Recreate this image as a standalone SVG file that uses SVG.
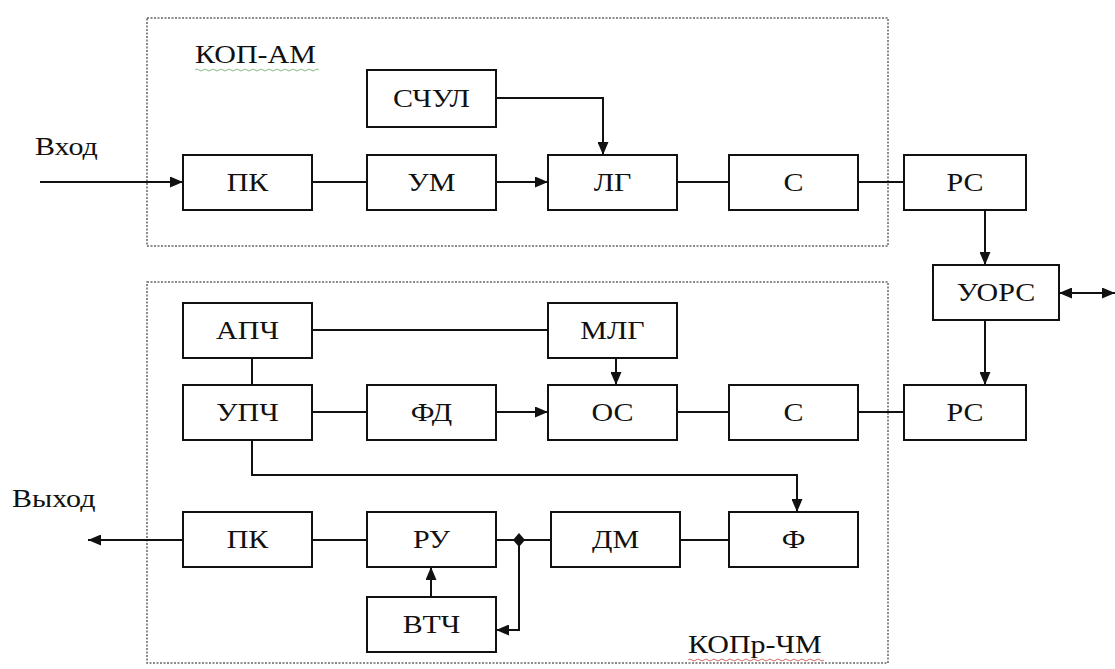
<svg xmlns="http://www.w3.org/2000/svg" width="1115" height="669" viewBox="0 0 1115 669">
<style>
.b{fill:#fff;stroke:#111;stroke-width:2}
.t{font-family:"Liberation Serif","DejaVu Serif","Times New Roman",serif;font-size:25px;fill:#111;text-anchor:middle}
.l{font-family:"Liberation Serif","DejaVu Serif","Times New Roman",serif;font-size:25px;fill:#111}
.c{fill:none;stroke:#111;stroke-width:2}
.d{fill:none;stroke:#666;stroke-width:1.5;stroke-dasharray:2 1.5}
</style>
<defs>
<marker id="a" markerWidth="13" markerHeight="11" refX="13" refY="5.5" orient="auto" markerUnits="userSpaceOnUse"><path d="M0,0 L13,5.5 L0,11 Z" fill="#111"/></marker>
<marker id="s" markerWidth="13" markerHeight="11" refX="0" refY="5.5" orient="auto" markerUnits="userSpaceOnUse"><path d="M13,0 L0,5.5 L13,11 Z" fill="#111"/></marker>
</defs>
<rect width="1115" height="669" fill="#fff"/>
<g id="frames">
<rect class="d" x="147" y="18" width="741" height="228"/>
<rect class="d" x="147" y="282" width="741" height="381"/>
<text class="l" transform="translate(195,63) scale(1.2,1)">КОП-АМ</text>
<path d="M195,70 q2,-2 4,0 t4,0 t4,0 t4,0 t4,0 t4,0 t4,0 t4,0 t4,0 t4,0 t4,0 t4,0 t4,0 t4,0 t4,0 t4,0 t4,0 t4,0 t4,0 t4,0 t4,0 t4,0 t4,0 t4,0 t4,0 t4,0 t4,0 t4,0 t4,0 t4,0 t4,0" fill="none" stroke="#6a6" stroke-width="0.8"/>
<text class="l" transform="translate(688,653) scale(1.2,1)">КОПр-ЧМ</text>
<path d="M688,660 q2,-2 4,0 t4,0 t4,0 t4,0 t4,0 t4,0 t4,0 t4,0 t4,0 t4,0 t4,0 t4,0 t4,0 t4,0 t4,0 t4,0 t4,0 t4,0 t4,0 t4,0 t4,0 t4,0 t4,0 t4,0 t4,0 t4,0 t4,0 t4,0 t4,0 t4,0 t4,0 t4,0 t4,0 t4,0" fill="none" stroke="#c44" stroke-width="0.8"/>
<text class="l" transform="translate(35,155) scale(1.2,1)">Вход</text>
<text class="l" transform="translate(12,507) scale(1.2,1)">Выход</text>
</g>
<g id="connectors">
<line class="c" x1="40" y1="182" x2="183" y2="182" marker-end="url(#a)"/>
<line class="c" x1="312" y1="182" x2="367" y2="182"/>
<line class="c" x1="496" y1="182" x2="548" y2="182" marker-end="url(#a)"/>
<line class="c" x1="677" y1="182" x2="729" y2="182"/>
<line class="c" x1="858" y1="182" x2="904" y2="182"/>
<polyline class="c" points="496,98 603,98 603,155" marker-end="url(#a)"/>
<line class="c" x1="985" y1="210" x2="985" y2="265" marker-end="url(#a)"/>
<line class="c" x1="1059" y1="293" x2="1115" y2="293" marker-start="url(#s)" marker-end="url(#a)"/>
<line class="c" x1="985" y1="320" x2="985" y2="385" marker-end="url(#a)"/>
<line class="c" x1="312" y1="330" x2="548" y2="330"/>
<line class="c" x1="252" y1="358" x2="252" y2="385"/>
<line class="c" x1="616" y1="358" x2="616" y2="385" marker-end="url(#a)"/>
<line class="c" x1="312" y1="412" x2="367" y2="412"/>
<line class="c" x1="496" y1="412" x2="548" y2="412" marker-end="url(#a)"/>
<line class="c" x1="677" y1="412" x2="729" y2="412"/>
<line class="c" x1="858" y1="412" x2="904" y2="412"/>
<polyline class="c" points="252,440 252,475 797,475 797,512" marker-end="url(#a)"/>
<line class="c" x1="183" y1="540" x2="88" y2="540" marker-end="url(#a)"/>
<line class="c" x1="312" y1="540" x2="367" y2="540"/>
<line class="c" x1="496" y1="540" x2="551" y2="540"/>
<line class="c" x1="680" y1="540" x2="729" y2="540"/>
<polyline class="c" points="519,540 519,630 496,630" marker-end="url(#a)"/>
<path d="M519,533 L525,540 L519,547 L513,540 Z" fill="#111"/>
<line class="c" x1="431" y1="597" x2="431" y2="567" marker-end="url(#a)"/>
</g>
<g id="n-schul"><rect class="b" x="367" y="70" width="129" height="57"/><text class="t" transform="translate(431.5,107) scale(1.2,1)">СЧУЛ</text></g>
<g id="n-pk1"><rect class="b" x="183" y="155" width="129" height="55"/><text class="t" transform="translate(247.5,191) scale(1.2,1)">ПК</text></g>
<g id="n-um"><rect class="b" x="367" y="155" width="129" height="55"/><text class="t" transform="translate(431.5,191) scale(1.2,1)">УМ</text></g>
<g id="n-lg"><rect class="b" x="548" y="155" width="129" height="55"/><text class="t" transform="translate(612.5,191) scale(1.2,1)">ЛГ</text></g>
<g id="n-c1"><rect class="b" x="729" y="155" width="129" height="55"/><text class="t" transform="translate(793.5,191) scale(1.2,1)">С</text></g>
<g id="n-rs1"><rect class="b" x="904" y="155" width="122" height="55"/><text class="t" transform="translate(965,191) scale(1.2,1)">РС</text></g>
<g id="n-uors"><rect class="b" x="933" y="265" width="126" height="55"/><text class="t" transform="translate(996,301) scale(1.2,1)">УОРС</text></g>
<g id="n-apch"><rect class="b" x="183" y="303" width="129" height="55"/><text class="t" transform="translate(247.5,339) scale(1.2,1)">АПЧ</text></g>
<g id="n-mlg"><rect class="b" x="548" y="303" width="129" height="55"/><text class="t" transform="translate(612.5,339) scale(1.2,1)">МЛГ</text></g>
<g id="n-upch"><rect class="b" x="183" y="385" width="129" height="55"/><text class="t" transform="translate(247.5,421) scale(1.2,1)">УПЧ</text></g>
<g id="n-fd"><rect class="b" x="367" y="385" width="129" height="55"/><text class="t" transform="translate(431.5,421) scale(1.2,1)">ФД</text></g>
<g id="n-os"><rect class="b" x="548" y="385" width="129" height="55"/><text class="t" transform="translate(612.5,421) scale(1.2,1)">ОС</text></g>
<g id="n-c2"><rect class="b" x="729" y="385" width="129" height="55"/><text class="t" transform="translate(793.5,421) scale(1.2,1)">С</text></g>
<g id="n-rs2"><rect class="b" x="904" y="385" width="122" height="55"/><text class="t" transform="translate(965,421) scale(1.2,1)">РС</text></g>
<g id="n-pk2"><rect class="b" x="183" y="512" width="129" height="55"/><text class="t" transform="translate(247.5,548) scale(1.2,1)">ПК</text></g>
<g id="n-ru"><rect class="b" x="367" y="512" width="129" height="55"/><text class="t" transform="translate(431.5,548) scale(1.2,1)">РУ</text></g>
<g id="n-dm"><rect class="b" x="551" y="512" width="129" height="55"/><text class="t" transform="translate(615.5,548) scale(1.2,1)">ДМ</text></g>
<g id="n-f"><rect class="b" x="729" y="512" width="129" height="55"/><text class="t" transform="translate(793.5,548) scale(1.2,1)">Ф</text></g>
<g id="n-vtch"><rect class="b" x="367" y="597" width="129" height="55"/><text class="t" transform="translate(431.5,633) scale(1.2,1)">ВТЧ</text></g>
</svg>
